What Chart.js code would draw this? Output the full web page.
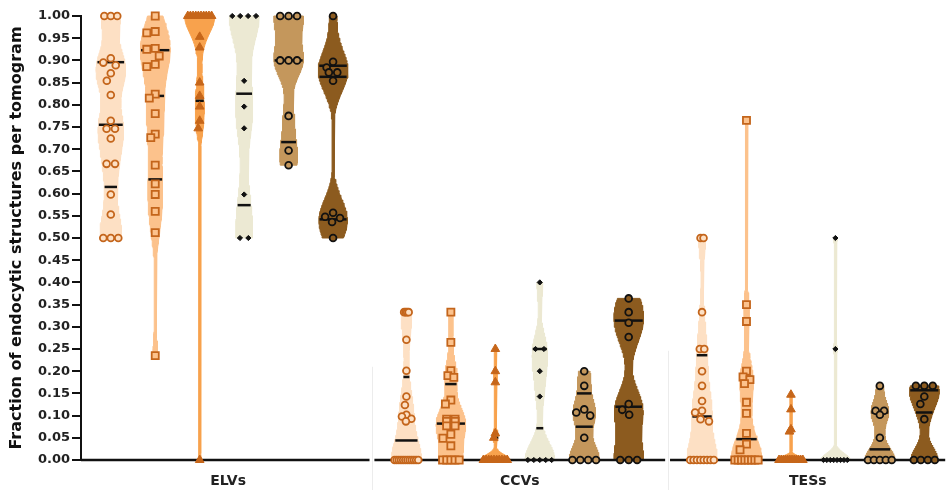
<!DOCTYPE html>
<html><head><meta charset="utf-8">
<script src="https://cdn.jsdelivr.net/npm/chart.js@4.4.0/dist/chart.umd.min.js"></script>
<style>html,body{margin:0;padding:0;background:#fff}#wrap{width:952px;height:490px;position:relative}</style>
</head><body><div id="wrap"><canvas id="c"></canvas></div>
<script>
// ---------------- DATA ----------------
const categories = ['ELVs', 'CCVs', 'TESs'];
const yTickLabels = ['0.00','0.05','0.10','0.15','0.20','0.25','0.30','0.35','0.40','0.45','0.50',
                     '0.55','0.60','0.65','0.70','0.75','0.80','0.85','0.90','0.95','1.00'];
const yTitle = 'Fraction of endocytic structures per tomogram';

// ELVs, six conditions
const elv1 = [1,1,1,0.905,0.895,0.889,0.871,0.854,0.822,0.764,0.746,0.746,0.724,0.667,0.667,0.598,0.553,0.5,0.5,0.5];
const elv2 = [1,0.965,0.962,0.927,0.925,0.91,0.891,0.886,0.824,0.815,0.78,0.734,0.726,0.664,0.622,0.598,0.56,0.512,0.235];
const elv3 = [1,1,1,1,1,1,1,1,1,1,0.953,0.929,0.85,0.82,0.796,0.764,0.747,0];
const elv4 = [1,1,1,1,0.854,0.796,0.747,0.598,0.5,0.5];
const elv5 = [1,1,1,0.9,0.9,0.9,0.775,0.697,0.664];
const elv6 = [1,0.897,0.884,0.873,0.873,0.854,0.557,0.548,0.545,0.536,0.5];
// CCVs
const ccv1 = [0.333,0.333,0.333,0.333,0.271,0.201,0.143,0.124,0.102,0.098,0.093,0.087,0,0,0,0,0,0,0,0,0,0,0,0];
const ccv2 = [0.333,0.265,0.201,0.19,0.186,0.135,0.126,0.092,0.092,0.087,0.087,0.077,0.077,0.058,0.049,0.032,0,0,0,0,0];
const ccv3 = [0.25,0.2,0.175,0.06,0.05,0,0,0,0,0,0,0,0,0,0];
const ccv4 = [0.4,0.25,0.25,0.2,0.143,0,0,0,0,0];
const ccv5 = [0.2,0.167,0.114,0.107,0.1,0.05,0,0,0,0];
const ccv6 = [0.364,0.333,0.309,0.277,0.126,0.113,0.102,0,0,0];
// TESs
const tes1 = [0.5,0.5,0.333,0.25,0.25,0.2,0.167,0.133,0.111,0.107,0.092,0.087,0,0,0,0,0,0,0,0];
const tes2 = [0.765,0.35,0.312,0.2,0.187,0.181,0.172,0.13,0.105,0.06,0.036,0.023,0,0,0,0,0,0,0,0];
const tes3 = [0.147,0.114,0.069,0.064,0,0,0,0,0,0,0,0,0,0,0,0];
const tes4 = [0.5,0.25,0,0,0,0,0,0,0,0];
const tes5 = [0.167,0.111,0.111,0.102,0.05,0,0,0,0,0];
const tes6 = [0.167,0.167,0.167,0.143,0.126,0.092,0,0,0,0];

// median / quartile lines as drawn (null = not visible), order ELVs 1-6, CCVs 1-6, TESs 1-6
const medianLines = [0.755,0.82,0.809,0.825,0.9,0.863, 0.044,0.082,null,0.0716,0.075,0.12, 0.098,0.047,null,null,0.024,0.107];
const upperQuartileLines = [0.896,0.923,null,null,null,0.888, 0.187,0.171,0.05,0.25,0.15,0.314, 0.236,0.187,null,null,0.107,0.157];
const lowerQuartileLines = [0.615,0.632,null,0.574,0.716,0.542, null,null,null,null,null,null, null,null,null,null,null,null];

// violin smoothing (kernel bandwidth, in y units)
const smoothing = [0.04,0.045,0.035,0.06,0.04,0.045, 0.045,0.03,0.012,0.04,0.03,0.045, 0.045,0.04,0.008,0.015,0.025,0.03];

const seriesByGroup = [[elv1,elv2,elv3,elv4,elv5,elv6],[ccv1,ccv2,ccv3,ccv4,ccv5,ccv6],[tes1,tes2,tes3,tes4,tes5,tes6]];

// ---------------- STYLE / LAYOUT ----------------
const fillColors   = ['#fde0c4','#fcc28c','#f8a24d','#ece9d3','#c4975c','#8c5b1f'];
const markerBorder = ['#c4651b','#c4651b','#c6661a','#111111','#111111','#111111'];
const markerFill   = ['#fde0c4','#fcc28c','#c6661a','#111111','#c4975c','#8c5b1f'];
const markerStyle  = ['circle','rect','triangle','rectRot','circle','circle'];
const markerRadius = [3.4,5,5,2.6,3.4,3.4];
const GROUP_STEP = 6.65;
const X_MIN = -0.67, X_MAX = 18.77;
const PXX = 871 / (X_MAX - X_MIN);   // px per x unit (approx)
const PXY = 444;                      // px per y unit (approx)
const MAX_HALF = 15, MIN_HALF = 1;    // px
const AXIS_SEGMENTS = [[X_MIN,5.82],[5.93,12.47],[12.58,X_MAX]];
const LABEL_POS = [2.64, 9.2, 15.68];
const SEPARATORS = [[5.875,0.21],[12.525,0.246]];
const FONT = "'DejaVu Sans', Verdana, sans-serif";

// ---------------- BUILD ----------------
function makeProfile(vals, h) {
  const lo = Math.min(...vals), hi = Math.max(...vals);
  const dens = y => vals.reduce((s, v) => { const u = (y - v) / h; return s + Math.exp(-0.5 * u * u); }, 0);
  const N = 140, ys = [];
  for (let i = 0; i <= N; i++) ys.push(lo + (hi - lo) * i / N);
  const ds = ys.map(dens);
  const m = Math.max(...ds);
  const half = y => Math.max(MIN_HALF, dens(y) / m * MAX_HALF);
  return { ys, ws: ys.map(half), half };
}

function swarm(vals, half) {
  const D = 8.5;
  const idx = vals.map((v, i) => i).sort((a, b) => vals[b] - vals[a]);
  const out = new Array(vals.length).fill(0);
  const placed = [];
  let i = 0;
  while (i < idx.length) {
    let j = i;
    while (j + 1 < idx.length && Math.abs(vals[idx[j + 1]] - vals[idx[i]]) < 0.002) j++;
    const m = j - i + 1, yv = vals[idx[i]], y = yv * PXY;
    const lim = Math.max(half(yv) - 3, 1.5);
    if (m > 1) {
      let s = D; if ((m - 1) * s > 2 * lim) s = 2 * lim / (m - 1);
      for (let k = 0; k < m; k++) { const x = (k - (m - 1) / 2) * s; out[idx[i + k]] = x; placed.push({ x, y }); }
    } else {
      let best = 0, bestD = -1, found = false;
      for (let t = 0; t <= lim && !found; t += 0.5) {
        for (const sg of [-1, 1]) {
          const x = sg * t;
          const md = placed.reduce((a, p) => Math.min(a, Math.hypot(p.x - x, p.y - y)), Infinity);
          if (md >= D) { best = x; found = true; break; }
          if (md > bestD) { bestD = md; best = x; }
        }
      }
      out[idx[i]] = best; placed.push({ x: best, y });
    }
    i = j + 1;
  }
  return out;
}

const violinSets = [], lineSets = [], pointSets = [];
seriesByGroup.forEach((group, g) => {
  group.forEach((vals, k) => {
    const n = g * 6 + k;
    const cx = g * GROUP_STEP + k;
    const p = makeProfile(vals, smoothing[n]);
    const left = p.ys.map((y, i) => ({ x: cx - p.ws[i] / PXX, y }));
    const right = p.ys.map((y, i) => ({ x: cx + p.ws[i] / PXX, y })).reverse();
    violinSets.push({
      data: left.concat(right, [left[0]]), showLine: true, fill: 'shape',
      backgroundColor: fillColors[k], borderColor: fillColors[k], borderWidth: 1,
      pointRadius: 0, tension: 0, order: 3, clip: false
    });
    [medianLines[n], upperQuartileLines[n], lowerQuartileLines[n]].forEach(v => {
      if (v === null) return;
      const hw = Math.max(3, p.half(v) * 0.95) / PXX;
      lineSets.push({
        data: [{ x: cx - hw, y: v }, { x: cx + hw, y: v }], showLine: true, fill: false,
        borderColor: '#111', borderWidth: 2.5, pointRadius: 0, order: 2, clip: false
      });
    });
    const offs = swarm(vals, p.half);
    pointSets.push({
      data: vals.map((v, i) => ({ x: cx + offs[i] / PXX, y: v })),
      pointStyle: markerStyle[k], pointRadius: markerRadius[k],
      pointBackgroundColor: markerFill[k], pointBorderColor: markerBorder[k],
      pointBorderWidth: k === 2 || k === 3 ? 1 : 1.8, showLine: false, order: 1, clip: false
    });
  });
});

const axisPlugin = {
  id: 'axisBreaks',
  afterDatasetDraw(chart, args) {
    if (args.index !== 0) return;
    const { ctx, scales: { x, y } } = chart;
    const y0 = y.getPixelForValue(0);
    ctx.save();
    ctx.strokeStyle = '#ececec'; ctx.lineWidth = 1;
    SEPARATORS.forEach(([sx, top]) => {
      const px = Math.round(x.getPixelForValue(sx)) + 0.5;
      ctx.beginPath(); ctx.moveTo(px, y.getPixelForValue(top)); ctx.lineTo(px, chart.height); ctx.stroke();
    });
    ctx.strokeStyle = '#111'; ctx.lineWidth = 2.5;
    AXIS_SEGMENTS.forEach(([a, b]) => {
      ctx.beginPath(); ctx.moveTo(x.getPixelForValue(a), y0); ctx.lineTo(x.getPixelForValue(b), y0); ctx.stroke();
    });
    ctx.restore();
  }
};

new Chart(document.getElementById('c'), {
  type: 'scatter',
  data: { datasets: violinSets.concat(lineSets, pointSets) },
  plugins: [axisPlugin],
  options: {
    responsive: true, maintainAspectRatio: false, animation: false, events: [],
    layout: { padding: { top: 16, left: 0, right: 0, bottom: 0 } },
    plugins: { legend: { display: false }, tooltip: { enabled: false } },
    scales: {
      x: {
        type: 'linear', min: X_MIN, max: X_MAX,
        grid: { display: false, drawTicks: false }, border: { display: false },
        afterBuildTicks: s => { s.ticks = LABEL_POS.map(v => ({ value: v })); },
        afterFit: s => { s.height = 30; },
        ticks: { autoSkip: false, maxRotation: 0, padding: 13, color: '#222',
          font: { family: FONT, size: 14, weight: 'bold' },
          callback: (v, i) => categories[i] }
      },
      y: {
        min: 0, max: 1,
        afterFit: s => { s.width = 81; },
        border: { display: true, color: '#111', width: 2 },
        grid: { drawOnChartArea: false, drawTicks: true, tickLength: 9, color: '#111', lineWidth: 2 },
        ticks: { stepSize: 0.05, padding: 2, color: '#222', font: { family: FONT, size: 13, weight: 'bold' },
          callback: v => yTickLabels[Math.round(v / 0.05)] },
        title: { display: true, text: yTitle, color: '#111', padding: { top: 7, bottom: 0 },
          font: { family: FONT, size: 16, weight: 'bold' } }
      }
    }
  }
});
</script></body></html>
